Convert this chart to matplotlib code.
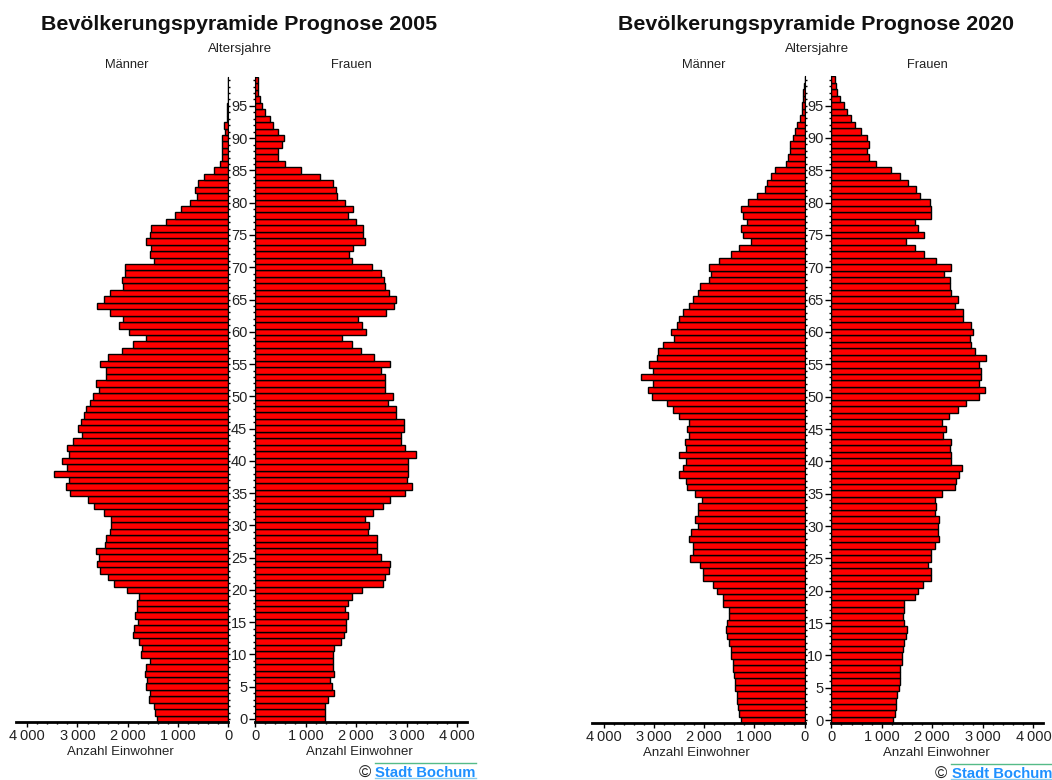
import matplotlib
matplotlib.use("Agg")
import matplotlib.pyplot as plt
from matplotlib.ticker import FixedLocator, FuncFormatter

plt.rcParams['font.family'] = ['Liberation Sans', 'DejaVu Sans']

AGES = list(range(100))
# Values listed from age 0 to age 99
MEN_2005 = [1425,1450,1475,1580,1555,1635,1610,1660,1635,1555,1740,1715,1770,1900,1875,1795,1850,1820,1820,1770,
            2005,2270,2400,2560,2615,2580,2640,2455,2430,2350,2325,2325,2480,2670,2800,3145,3225,3170,3465,3200,
            3305,3170,3200,3090,2905,2980,2935,2880,2830,2750,2690,2580,2640,2430,2430,2560,2400,2110,1900,1635,
            1980,2165,2085,2350,2615,2480,2350,2085,2110,2060,2060,1475,1555,1535,1640,1555,1535,1240,1050,945,
            760,630,655,610,475,285,165,130,130,130,130,65,85,20,30,30,5,0,0,0]
WOMEN_2005 = [1385,1385,1385,1435,1570,1515,1490,1570,1545,1545,1545,1570,1700,1755,1810,1810,1835,1780,1835,1915,
              2125,2525,2575,2655,2680,2500,2415,2415,2415,2230,2260,2180,2340,2525,2680,2975,3105,3000,3025,3025,
              3025,3185,2975,2895,2895,2945,2945,2790,2790,2630,2735,2575,2575,2575,2500,2680,2365,2100,1915,1730,
              2205,2125,2045,2600,2760,2790,2655,2575,2550,2500,2310,1915,1860,1940,2180,2145,2145,1995,1835,1940,
              1780,1620,1595,1550,1285,915,590,455,455,535,565,455,360,305,200,140,95,55,55,65]
MEN_2020 = [1270,1300,1325,1350,1350,1380,1380,1405,1430,1430,1455,1455,1510,1535,1565,1535,1510,1510,1615,1615,
            1750,1830,2015,2015,2090,2280,2225,2225,2305,2250,2120,2170,2120,2120,2040,2170,2330,2360,2490,2410,
            2360,2490,2360,2385,2305,2330,2305,2490,2620,2730,3045,3125,3020,3260,3020,3100,2940,2915,2810,2595,
            2650,2545,2490,2410,2305,2225,2120,2090,1905,1855,1905,1695,1455,1300,1060,1220,1270,1140,1220,1270,
            1115,955,795,740,660,585,370,320,290,290,220,190,140,85,40,50,25,25,5,0]
WOMEN_2020 = [1230,1260,1285,1285,1310,1340,1365,1365,1365,1390,1390,1415,1445,1470,1495,1445,1415,1445,1445,1655,
              1710,1815,1975,1975,1920,1975,1975,2055,2130,2105,2105,2130,2055,2080,2055,2185,2450,2475,2530,2585,
              2370,2370,2345,2370,2210,2265,2185,2320,2505,2660,2925,3035,2925,2955,2955,2925,3060,2850,2770,2740,
              2795,2770,2610,2610,2450,2505,2370,2345,2345,2240,2370,2080,1840,1655,1470,1840,1710,1655,1975,1975,
              1945,1760,1680,1525,1365,1180,885,755,700,755,700,595,465,385,305,250,170,120,95,65]
TITLES = ["Bevölkerungspyramide Prognose 2005", "Bevölkerungspyramide Prognose 2020"]
AGE_TICKS = list(range(0, 100, 5))
COUNT_TICKS = [0, 1000, 2000, 3000, 4000]
COUNT_MINOR = list(range(0, 4200, 200))

W, H = 1052, 780
fig = plt.figure(figsize=(W / 100, H / 100), dpi=100, facecolor="white")


def box(l, r, top, bottom):
    return [l / W, 1 - bottom / H, (r - l) / W, (bottom - top) / H]


def group(n):
    n = int(n)
    return f"{n // 1000}\u2009{n % 1000:03d}" if n else "0"


def label(x, y, s, **kw):
    kw.setdefault("ha", "center")
    kw.setdefault("va", "center")
    fig.text(x / W, 1 - y / H, s, **kw)


def panel(men, women, title, dx, dy, per_year):
    bottom = 722.2 + dy
    top = bottom - 100 * per_year
    a = fig.add_axes(box(15.7 + dx, 228.2 + dx, top, bottom))
    b = fig.add_axes(box(255.0 + dx, 466.7 + dx, top, bottom))
    for ax, vals in ((a, men), (b, women)):
        ax.barh(AGES, vals, height=1.0, color="#ff0000", edgecolor="black", linewidth=1.0)
        ax.set_ylim(-0.5, 99.5)
        ax.spines["top"].set_visible(False)
        ax.spines["bottom"].set_linewidth(2)
        ax.xaxis.set_major_locator(FixedLocator(COUNT_TICKS))
        ax.xaxis.set_minor_locator(FixedLocator(COUNT_MINOR))
        ax.xaxis.set_major_formatter(FuncFormatter(lambda v, p: group(v)))
        ax.tick_params(axis="x", which="major", length=3.5, width=1, labelsize=10.5, pad=1.5, labelcolor="#222222")
        ax.tick_params(axis="x", which="minor", length=1.5, width=1)
        ax.yaxis.set_minor_locator(FixedLocator(AGES))
        ax.yaxis.set_major_locator(FixedLocator(AGE_TICKS))
        ax.patch.set_alpha(0)
    a.set_xlim(4230, 0)
    b.set_xlim(0, 4190)
    a.spines["left"].set_visible(False)
    b.spines["right"].set_visible(False)
    a.yaxis.tick_right()
    a.tick_params(axis="y", which="both", length=1.5, width=1, labelright=False)
    b.tick_params(axis="y", which="major", length=4, width=1, labelsize=10.5, pad=1.5, labelcolor="#222222")
    b.tick_params(axis="y", which="minor", length=1.5, width=1)
    a.set_xlabel("Anzahl Einwohner", fontsize=9.5, labelpad=2, x=0.492, color="#222222")
    b.set_xlabel("Anzahl Einwohner", fontsize=9.5, labelpad=2, x=0.495, color="#222222")
    label(239.5 + dx, 24.5, title, fontsize=15.4, fontweight="bold", color="#111111")
    label(240.5 + dx, 49, "Altersjahre", fontsize=9.6, color="#222222")
    label(127 + dx, 65, "Männer", fontsize=9.3, color="#222222")
    label(351.5 + dx, 65, "Frauen", fontsize=9.3, color="#222222")
    label(425.5 + dx, 773 + dy, "Stadt Bochum", fontsize=10.7, fontweight="bold", color="#1e90ff")
    label(365 + dx, 773 + dy, "©", fontsize=12, color="#222222")
    for y, colour in ((763, "#55bb88"), (778, "#88ccee")):
        fig.add_artist(plt.Line2D([(375 + dx) / W, (475.5 + dx) / W], [1 - (y + dy) / H] * 2,
                                  color=colour, linewidth=1))


panel(MEN_2005, WOMEN_2005, TITLES[0], 0, 0, 6.453)
panel(MEN_2020, WOMEN_2020, TITLES[1], 576.3, 1.2, 6.47)

fig.savefig("out.png", dpi=100)
